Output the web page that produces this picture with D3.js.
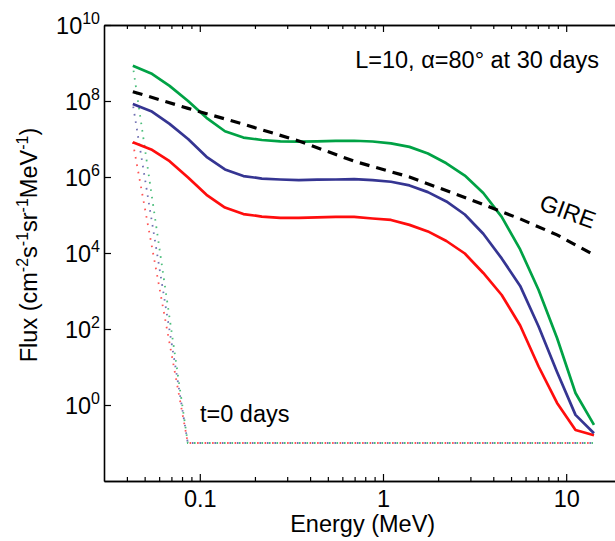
<!DOCTYPE html>
<html>
<head>
<meta charset="utf-8">
<script src="https://cdn.jsdelivr.net/npm/d3@7/dist/d3.min.js"></script>
<style>
  html, body { margin: 0; padding: 0; background: #fff; }
  svg { display: block; }
  text { font-family: "Liberation Sans", Arial, Helvetica, sans-serif; fill: #000; }
</style>
</head>
<body>
<svg id="chart" width="615" height="541"></svg>
<script>
// ---- data ----
const energies = [0.0431,0.0543,0.0684,0.0863,0.1088,0.1372,0.1730,0.2182,0.2752,0.3470,0.4375,0.5517,0.6958,0.8772,1.106,1.395,1.759,2.218,2.797,3.527,4.446,5.607,7.070,8.915,11.24,14.18];
const greenFlux = [8.5e8,5.3e8,2.5e8,1.0e8,3.6e7,1.6e7,1.09e7,9.4e6,8.7e6,8.5e6,8.7e6,8.9e6,9.0e6,8.6e6,7.7e6,6.2e6,4.15e6,2.3e6,1.09e6,3.8e5,8.9e4,1.24e4,1.06e3,58,2.07,0.30];
const blueFlux  = [8.3e7,5.4e7,2.5e7,1.0e7,3.4e6,1.58e6,1.06e6,9.1e5,8.6e5,8.3e5,8.5e5,8.6e5,8.8e5,8.3e5,7.5e5,6.0e5,4.0e5,2.27e5,1.03e5,3.2e4,7.2e3,1.36e3,116,7.4,0.55,0.18];
const redFlux   = [8.2e6,5.3e6,2.6e6,9.7e5,3.4e5,1.57e5,1.06e5,9.1e4,8.4e4,8.4e4,8.7e4,8.9e4,8.9e4,8.1e4,7.4e4,5.5e4,3.7e4,2.07e4,9.7e3,2.98e3,785,124,10.3,1.13,0.22,0.16];
const gireEnergy = [0.0431,0.0863,0.1730,0.3470,0.6958,1.395,2.797,5.607,8.915,14.18];
const gireFlux   = [1.76e8,6.4e7,2.45e7,8.9e6,2.6e6,1.0e6,2.9e5,7.9e4,3.0e4,8.9e3];
const t0Energy = [0.0431, 0.086, 14.0];
const t0Green  = [8.5e8, 0.1, 0.1];
const t0Blue   = [8.3e7, 0.1, 0.1];
const t0Red    = [8.2e6, 0.1, 0.1];
const xMajorTicks = [0.1, 1, 10];
const xTickLabels = ["0.1", "1", "10"];
const xMinorTicks = [0.04,0.05,0.06,0.07,0.08,0.09,0.2,0.3,0.4,0.5,0.6,0.7,0.8,0.9,2,3,4,5,6,7,8,9,20];
const yTicks = [1e0, 1e2, 1e4, 1e6, 1e8, 1e10];
const yTickExp = ["0", "2", "4", "6", "8", "10"];

// ---- layout ----
const svg = d3.select("#chart");
const mLeft = 104, mTop = 25, mBottom = 481;
const x = d3.scaleLog().domain([0.03, 20]).range([mLeft, mLeft + 183.2 * Math.log10(20 / 0.03)]);
const y = d3.scaleLog().domain([1e-2, 1e10]).range([mBottom, mTop]);
const mRight = x.range()[1];
const FS = 23.5, SUP = 16;

const colors = { green: "#00a245", blue: "#353592", red: "#ff0d0d" };

// ---- axes ----
const gx = svg.append("g").attr("transform", `translate(0,${mBottom})`);
gx.call(d3.axisBottom(x).tickValues(xMinorTicks).tickSizeInner(-4).tickSizeOuter(0).tickFormat(""));
const gx2 = svg.append("g").attr("transform", `translate(0,${mBottom})`);
gx2.call(d3.axisBottom(x).tickValues(xMajorTicks).tickSizeInner(-7).tickSizeOuter(0)
  .tickFormat((d, i) => xTickLabels[i]).tickPadding(9));
const gt = svg.append("g").attr("transform", `translate(0,${mTop})`);
gt.call(d3.axisTop(x).tickValues(xMinorTicks).tickSizeInner(-4).tickSizeOuter(0).tickFormat(""));
const gt2 = svg.append("g").attr("transform", `translate(0,${mTop})`);
gt2.call(d3.axisTop(x).tickValues(xMajorTicks).tickSizeInner(-7).tickSizeOuter(0).tickFormat(""));
const gy = svg.append("g").attr("transform", `translate(${mLeft},0)`);
gy.call(d3.axisLeft(y).tickValues(yTicks).tickSizeInner(-7).tickSizeOuter(0).tickFormat(""));

svg.selectAll(".domain").attr("stroke", "#000").attr("stroke-width", 1.6);
svg.selectAll(".tick line").attr("stroke", "#000").attr("stroke-width", 1.2);
gx2.selectAll(".tick text").attr("font-size", FS).attr("font-family", "Liberation Sans, Arial, sans-serif").attr("fill", "#000");

// y tick labels with superscripts
const ylab = svg.append("g");
yTicks.forEach((v, i) => {
  const t = ylab.append("text")
    .attr("x", mLeft - 4).attr("y", y(v) + 9)
    .attr("text-anchor", "end").attr("font-size", FS);
  t.append("tspan").text("10");
  t.append("tspan").attr("dy", -10).attr("font-size", SUP).text(yTickExp[i]);
});

// ---- lines ----
const line = d3.line().x(d => x(d[0])).y(d => y(d[1]));
const zip = (xs, ys) => xs.map((e, i) => [e, ys[i]]);

// t = 0 dotted lines
[[t0Red, colors.red, 0], [t0Green, colors.green, 2.5], [t0Blue, colors.blue, 5]].forEach(([ser, c, off]) => {
  svg.append("path").datum(zip(t0Energy, ser))
    .attr("d", line).attr("fill", "none").attr("stroke", c)
    .attr("stroke-width", 1.8).attr("stroke-opacity", 0.7)
    .attr("stroke-dasharray", "1.6,5.9").attr("stroke-dashoffset", off);
});

[[redFlux, colors.red], [blueFlux, colors.blue], [greenFlux, colors.green]].forEach(([ser, c]) => {
  svg.append("path").datum(zip(energies, ser))
    .attr("d", line).attr("fill", "none").attr("stroke", c)
    .attr("stroke-width", 2.7).attr("stroke-linejoin", "round");
});

svg.append("path").datum(zip(gireEnergy, gireFlux))
  .attr("d", line).attr("fill", "none").attr("stroke", "#000")
  .attr("stroke-width", 3.2).attr("stroke-dasharray", "10,7");

// ---- labels ----
svg.append("text").attr("x", 599).attr("y", 68).attr("text-anchor", "end")
  .attr("font-size", FS).text("L=10, α=80° at 30 days");
svg.append("text").attr("x", 200).attr("y", 422).attr("font-size", FS).text("t=0 days");
svg.append("text").attr("transform", "translate(565,219) rotate(20)")
  .attr("text-anchor", "middle").attr("font-size", FS).text("GIRE");

svg.append("text").attr("x", (mLeft + mRight) / 2).attr("y", 532)
  .attr("text-anchor", "middle").attr("font-size", FS).text("Energy (MeV)");

const yl = svg.append("text")
  .attr("transform", `translate(37,${(mTop + mBottom) / 2 - 8}) rotate(-90)`)
  .attr("text-anchor", "middle").attr("font-size", FS);
yl.append("tspan").text("Flux (cm");
yl.append("tspan").attr("dy", -9).attr("font-size", SUP).text("-2");
yl.append("tspan").attr("dy", 9).text("s");
yl.append("tspan").attr("dy", -9).attr("font-size", SUP).text("-1");
yl.append("tspan").attr("dy", 9).text("sr");
yl.append("tspan").attr("dy", -9).attr("font-size", SUP).text("-1");
yl.append("tspan").attr("dy", 9).text("MeV");
yl.append("tspan").attr("dy", -9).attr("font-size", SUP).text("-1");
yl.append("tspan").attr("dy", 9).text(")");
</script>
</body>
</html>
